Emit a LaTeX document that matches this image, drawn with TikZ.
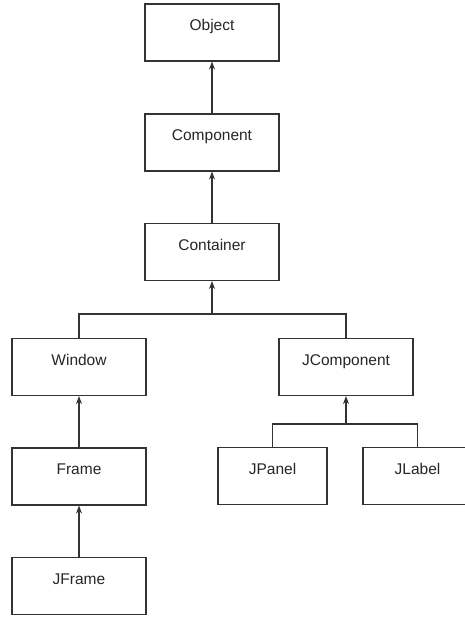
\documentclass[tikz,border=0pt]{standalone}
\usepackage{fontspec}
\setmainfont{Liberation Sans}
\usetikzlibrary{arrows.meta}

\def\bigw{134}
\def\smallw{109}

\begin{document}
\begin{tikzpicture}[x=1pt, y=-1pt,
                    >={Stealth[length=8pt,width=6pt]}, line cap=round,
                    cls/.style={draw=black!80, line width=1.1pt, fill=white,
                      minimum width=\bigw pt, inner xsep=0pt, inner ysep=0pt,
                      text height=26.7pt, text depth=30.3pt,
                      font=\fontsize{15.5}{18}\selectfont, text=black!85},
                    sub/.style={cls, minimum width=\smallw pt},
                    link/.style={draw=black!80, line width=1.1pt}
                   ]

    \useasboundingbox (0,0) rectangle (464,617);

    % classes
    \node [cls] (object)     at (212,32.5)  {Object};
    \node [cls] (component)  at (212,142.5) {Component};
    \node [cls] (container)  at (212,252)   {Container};
    \node [cls] (window)     at (79,367)    {Window};
    \node [cls] (jcomponent) at (346,367)   {JComponent};
    \node [cls] (frame)      at (79,476.5)  {Frame};
    \node [cls] (jframe)     at (79,586)    {JFrame};
    \node [sub] (jpanel)     at (272.5,476) {JPanel};
    \node [sub] (jlabel)     at (417.5,476) {JLabel};

    \coordinate (split1) at (212,314);
    \coordinate (split2) at (346,424);

    % inheritance
    \draw [link,->] (component) -- (object);
    \draw [link,->] (container) -- (component);
    \draw [link] (window.north) |- (split1) -| (jcomponent.north);
    \draw [link,->] (split1) -- (container);
    \draw [link,->] (frame) -- (window);
    \draw [link,->] (jframe) -- (frame);
    \draw [link] (jpanel.north) |- (split2) -| (jlabel.north);
    \draw [link,->] (split2) -- (jcomponent);

\end{tikzpicture}
\end{document}
